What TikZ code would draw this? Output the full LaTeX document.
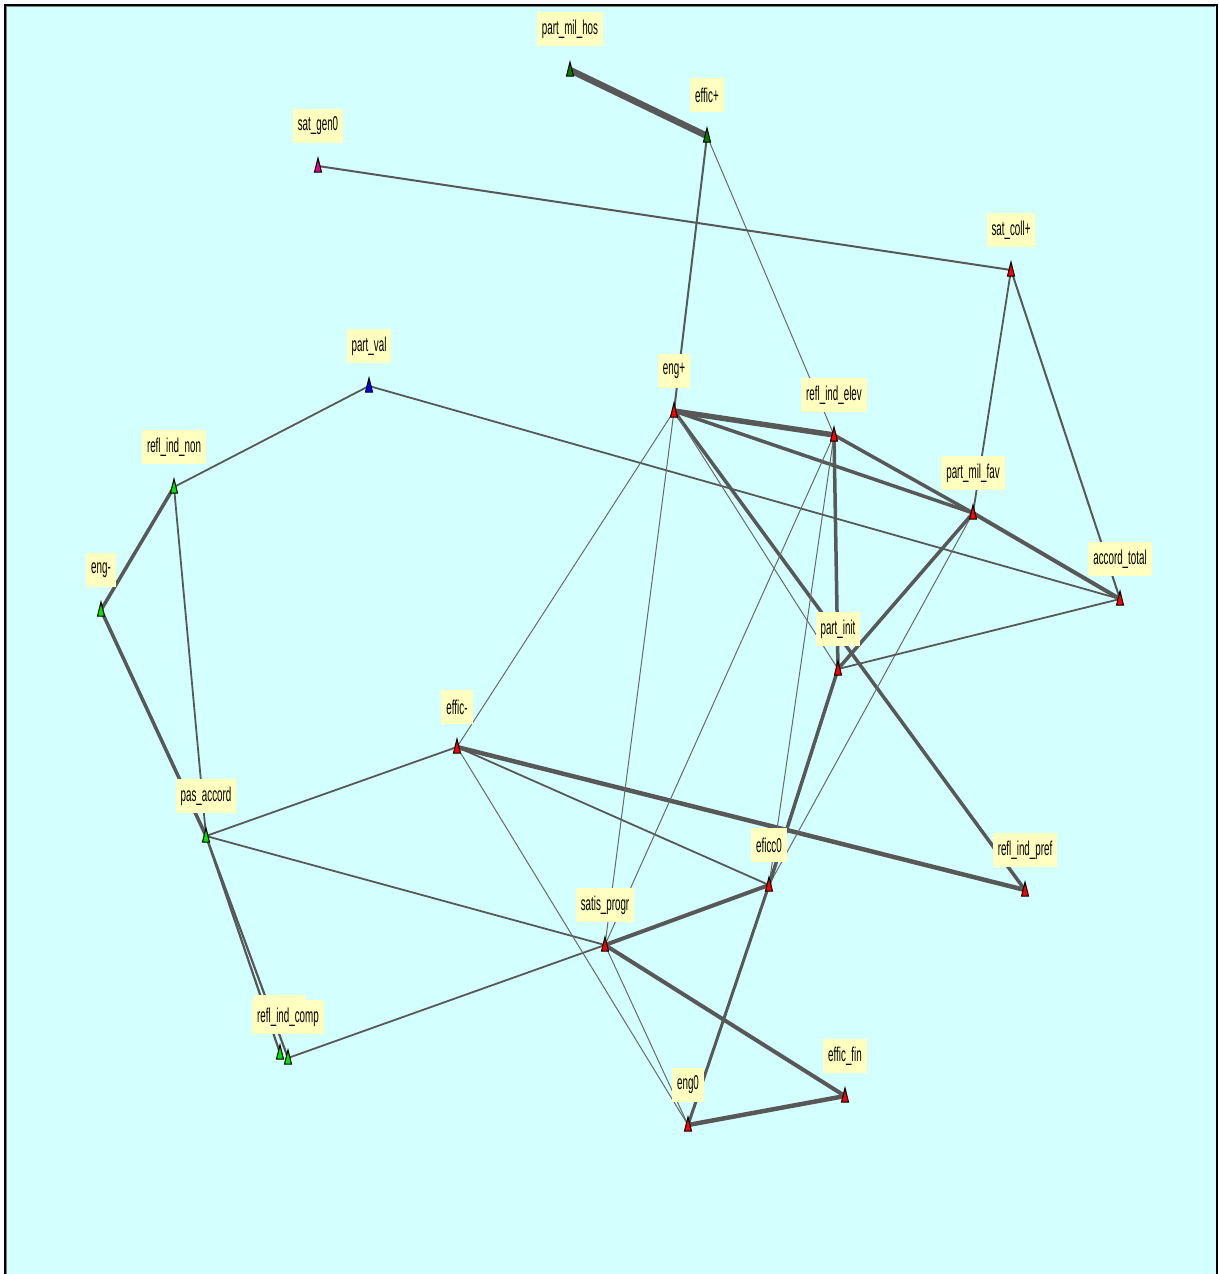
\documentclass[tikz,border=0pt]{standalone}
\usepackage{fontspec}
\setmainfont[FakeStretch=0.49]{Liberation Sans}
\usetikzlibrary{calc}
\definecolor{bgc}{RGB}{212,255,255}
\definecolor{labc}{RGB}{255,255,192}
\definecolor{edgec}{RGB}{88,88,88}
\definecolor{thinc}{RGB}{105,105,105}
\definecolor{dkgreen}{RGB}{0,128,0}
\definecolor{ltgreen}{RGB}{0,230,0}
\begin{document}
\begin{tikzpicture}[x=1pt,y=-1pt,
  e/.style={draw=edgec,line cap=butt},
  et/.style={draw=thinc,line width=1pt},
  lab/.style={fill=labc,inner xsep=5pt,inner ysep=0pt,minimum height=34pt,font=\fontsize{20}{20}\selectfont,text=black},
  tri/.style={draw=black,line width=1pt,line join=miter}]
\useasboundingbox (0,0) rectangle (1218,1274);
\fill[white] (0,0) rectangle (1218,1274);
\fill[bgc] (6,6) rectangle (1216,1274);
\draw[black,line width=2pt] (5,1274) -- (5,5) -- (1217,5) -- (1217,1274);
\draw[gray,line width=1pt] (6.5,1274) -- (6.5,6.5) -- (1215,6.5);
% node positions
\coordinate (pmh) at (570,70);
\coordinate (effp) at (707,136);
\coordinate (sg0) at (318,166);
\coordinate (scp) at (1011,270);
\coordinate (pval) at (369,386);
\coordinate (engp) at (674,411);
\coordinate (rie) at (834,435);
\coordinate (rin) at (174,487);
\coordinate (pmf) at (973,513);
\coordinate (engm) at (101,610);
\coordinate (acc) at (1120,599);
\coordinate (pin) at (838,669);
\coordinate (effm) at (457,747);
\coordinate (pas) at (206,836);
\coordinate (ef0) at (769,885);
\coordinate (rip) at (1025,890);
\coordinate (sat) at (605,945);
\coordinate (rca) at (280,1053);
\coordinate (rcb) at (288,1058);
\coordinate (efin) at (845,1096);
\coordinate (eng0) at (688,1125);
% edges
\draw[e,line width=6.5pt] (pmh) -- (effp);
\draw[e,line width=2pt] (effp) -- (engp);
\draw[et] (effp) -- (rie);
\draw[e,line width=2pt] (sg0) -- (scp);
\draw[e,line width=1.8pt] (scp) -- (pmf);
\draw[e,line width=2pt] (scp) -- (acc);
\draw[e,line width=1.8pt] (pval) -- (rin);
\draw[e,line width=1.8pt] (pval) -- (acc);
\draw[e,line width=3.5pt] (rin) -- (engm);
\draw[e,line width=1.8pt] (rin) -- (pas);
\draw[e,line width=3.5pt] (engm) -- (pas);
\draw[e,line width=2.2pt] (pas) -- (rca);
\draw[e,line width=2.2pt] (pas) -- (rcb);
\draw[e,line width=1.8pt] (pas) -- (effm);
\draw[e,line width=1.8pt] (pas) -- (sat);
\draw[e,line width=1.8pt] (rcb) -- (sat);
\draw[e,line width=4pt] (sat) -- (ef0);
\draw[et] (effm) -- (engp);
\draw[e,line width=4.5pt] (effm) -- (rip);
\draw[e,line width=1.8pt] (effm) -- (ef0);
\draw[et] (effm) -- (eng0);
\draw[e,line width=5.5pt] (engp) -- (rie);
\draw[e,line width=3.5pt] (engp) -- (pmf);
\draw[e,line width=3.5pt] (rie) -- (pmf);
\draw[e,line width=4pt] (pmf) -- (acc);
\draw[e,line width=3.5pt] (engp) -- (rip);
\draw[et] (engp) -- (pin);
\draw[et] (engp) -- (sat);
\draw[e,line width=3.5pt] (rie) -- (pin);
\draw[et] (rie) -- (ef0);
\draw[et] (rie) -- (sat);
\draw[e,line width=3.5pt] (pmf) -- (pin);
\draw[et] (pmf) -- (ef0);
\draw[e,line width=3.5pt] (pin) -- (ef0);
\draw[e,line width=1.8pt] (pin) -- (acc);
\draw[e,line width=3pt] (ef0) -- (eng0);
\draw[e,line width=4pt] (sat) -- (efin);
\draw[e,line width=4.5pt] (eng0) -- (efin);
\draw[et] (sat) -- (eng0);
% triangles
\foreach \n/\c in {pmh/dkgreen,effp/dkgreen,sg0/magenta,scp/red,pval/blue,engp/red,rie/red,rin/ltgreen,pmf/red,engm/ltgreen,acc/red,pin/red,effm/red,pas/ltgreen,ef0/red,rip/red,sat/red,rca/ltgreen,rcb/ltgreen,efin/red,eng0/red}
  \draw[tri,fill=\c] (\n) ++(-3.5,6) -- ++(3.5,-14) -- ++(3.5,14) -- cycle;
% labels
\node[lab] (pmh-l) at ($(pmh)+(0,-41)$) {part\_mil\_hos};
\node[lab] (effp-l) at ($(effp)+(0,-41)$) {effic+};
\node[lab] (sg0-l) at ($(sg0)+(0,-40)$) {sat\_gen0};
\node[lab] (scp-l) at ($(scp)+(0,-40)$) {sat\_coll+};
\node[lab] (pval-l) at ($(pval)+(0,-40)$) {part\_val};
\node[lab] (engp-l) at ($(engp)+(0,-40)$) {eng+};
\node[lab] (rie-l) at ($(rie)+(0,-40)$) {refl\_ind\_elev};
\node[lab] (rin-l) at ($(rin)+(0,-40)$) {refl\_ind\_non};
\node[lab] (pmf-l) at ($(pmf)+(0,-40)$) {part\_mil\_fav};
\node[lab] (engm-l) at ($(engm)+(0,-40)$) {eng-};
\node[lab] (acc-l) at ($(acc)+(0,-40)$) {accord\_total};
\node[lab] (pin-l) at ($(pin)+(0,-40)$) {part\_init};
\node[lab] (effm-l) at ($(effm)+(0,-40)$) {effic-};
\node[lab] (pas-l) at ($(pas)+(0,-40)$) {pas\_accord};
\node[lab] (ef0-l) at ($(ef0)+(0,-40)$) {eficc0};
\node[lab] (rip-l) at ($(rip)+(0,-40)$) {refl\_ind\_pref};
\node[lab] (sat-l) at ($(sat)+(0,-40)$) {satis\_progr};
\node[lab,minimum width=52pt] (rca-l) at ($(rca)+(0,-41)$) {};
\node[lab] (rcb-l) at ($(rcb)+(0,-41)$) {refl\_ind\_comp};
\node[lab] (efin-l) at ($(efin)+(0,-40)$) {effic\_fin};
\node[lab] (eng0-l) at ($(eng0)+(0,-40)$) {eng0};
\end{tikzpicture}
\end{document}
